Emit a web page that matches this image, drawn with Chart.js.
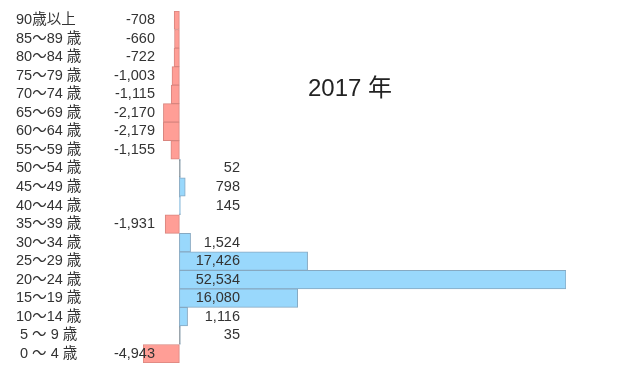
<!DOCTYPE html>
<html>
<head>
<meta charset="utf-8">
<script src="https://cdn.jsdelivr.net/npm/chart.js@4"></script>
<style>
html,body{margin:0;padding:0;background:#fff;}
#wrap{width:618px;height:373px;position:relative;}
</style>
</head>
<body>
<div id="wrap"><canvas id="c" width="618" height="373"></canvas></div>
<script>
const categories = ["90歳以上","85～89 歳","80～84 歳","75～79 歳","70～74 歳","65～69 歳","60～64 歳","55～59 歳","50～54 歳","45～49 歳","40～44 歳","35～39 歳","30～34 歳","25～29 歳","20～24 歳","15～19 歳","10～14 歳"," 5 ～ 9 歳"," 0 ～ 4 歳"];
const values = [-708,-660,-722,-1003,-1115,-2170,-2179,-1155,52,798,145,-1931,1524,17426,52534,16080,1116,35,-4943];
const titleText = "2017 年";
const xMin = -4943, xMax = 52534;

const FONT = '"Liberation Sans", "Noto Sans CJK JP", sans-serif';

const labelPlugin = {
  id: 'labels',
  afterDatasetsDraw(chart) {
    const ctx = chart.ctx;
    const yScale = chart.scales.y;
    ctx.save();
    ctx.fillStyle = '#333';
    ctx.textBaseline = 'middle';
    ctx.font = '14.5px ' + FONT;
    categories.forEach((c, i) => {
      const y = yScale.getPixelForValue(i);
      ctx.textAlign = 'left';
      ctx.fillText(c, 16, y);
      const v = values[i];
      ctx.textAlign = 'right';
      ctx.fillText(v.toLocaleString('en-US'), v < 0 ? 155 : 240, y);
    });
    ctx.font = '24px ' + FONT;
    ctx.textAlign = 'center';
    ctx.fillStyle = '#222';
    ctx.fillText(titleText, 350, 89);
    ctx.restore();
  }
};

new Chart(document.getElementById('c'), {
  type: 'bar',
  data: {
    labels: categories,
    datasets: [{
      data: values,
      backgroundColor: ctx => values[ctx.dataIndex] < 0 ? '#FF9E96' : (values[ctx.dataIndex] < 100 ? '#666' : '#99D8FC'),
      borderColor: ctx => values[ctx.dataIndex] < 0 ? '#D9857E' : '#86A9C2',
      borderWidth: 1,
      borderSkipped: false,
      barPercentage: 1,
      categoryPercentage: 1,
      minBarLength: 1
    }]
  },
  options: {
    indexAxis: 'y',
    responsive: false,
    animation: false,
    layout: { padding: { left: 143, right: 52, top: 11, bottom: 10 } },
    plugins: { legend: { display: false }, tooltip: { enabled: false }, title: { display: false } },
    scales: {
      x: { display: false, min: xMin, max: xMax },
      y: { display: false }
    }
  },
  plugins: [labelPlugin]
});
</script>
</body>
</html>
